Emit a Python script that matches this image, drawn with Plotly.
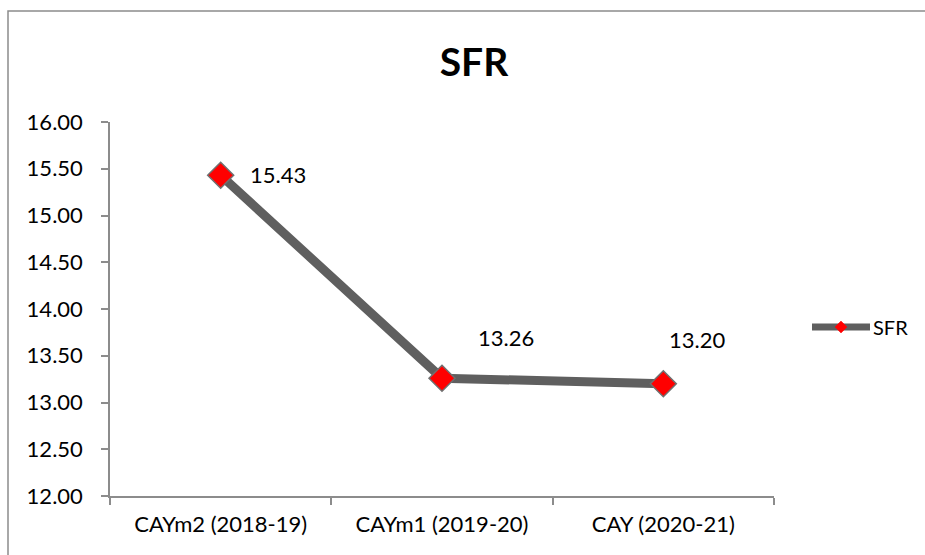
import plotly.graph_objects as go

# SFR by academic year
categories = ["CAYm2 (2018-19)", "CAYm1 (2019-20)", "CAY (2020-21)"]
sfr_values = [15.43, 13.26, 13.20]
y_ticks = [12.0, 12.5, 13.0, 13.5, 14.0, 14.5, 15.0, 15.5, 16.0]
series_name = "SFR"

# data label offsets (px) relative to each point
label_dx = [57, 64, 34]
label_dy = [1, 41, 44]

W, H = 925, 555
ML, MR, MT, MB = 110, 151, 122, 59
PW, PH = W - ML - MR, H - MT - MB

FONT = "Lato, Open Sans, sans-serif"
LINE_GREY = "#5f5f5f"
AXIS_GREY = "#8c8c8c"


def px_x(px):
    return (px - ML) / PW


def px_y(py):
    return (H - MB - py) / PH


fig = go.Figure()
fig.add_trace(go.Scatter(
    x=categories, y=sfr_values, name=series_name, mode="lines+markers",
    line=dict(color=LINE_GREY, width=9),
    marker=dict(symbol="diamond", size=20, color="#ff0000",
                line=dict(color="#707070", width=1.5)),
    showlegend=False,
))

for c, v, dx, dy in zip(categories, sfr_values, label_dx, label_dy):
    fig.add_annotation(x=c, y=v, text=f"{v:.2f}", showarrow=False,
                       xshift=dx, yshift=dy,
                       font=dict(family=FONT, size=22, color="#000000"))

# legend key: thick grey line with a small red diamond, then the name
lx0, lx1, ly = 812, 870, 327
fig.add_shape(type="line", xref="paper", yref="paper",
              x0=px_x(lx0), x1=px_x(lx1), y0=px_y(ly), y1=px_y(ly),
              line=dict(color=LINE_GREY, width=7))
cx, r = (lx0 + lx1) / 2, 6
fig.add_shape(type="path", xref="paper", yref="paper",
              path=(f"M {px_x(cx - r)} {px_y(ly)} L {px_x(cx)} {px_y(ly - r)} "
                    f"L {px_x(cx + r)} {px_y(ly)} L {px_x(cx)} {px_y(ly + r)} Z"),
              fillcolor="#ff0000", line=dict(color="#ff0000", width=0.5))
fig.add_annotation(xref="paper", yref="paper", x=px_x(lx1 + 1), y=px_y(ly),
                   xanchor="left", yanchor="middle", showarrow=False,
                   text=series_name,
                   font=dict(family=FONT, size=20, color="#000000"))

# outer chart border
fig.add_shape(type="rect", xref="paper", yref="paper",
              x0=px_x(8), x1=px_x(W + 5), y0=px_y(H + 5), y1=px_y(11),
              line=dict(color=AXIS_GREY, width=1.5), layer="below")

fig.update_layout(
    width=W, height=H,
    margin=dict(l=ML, r=MR, t=MT, b=MB),
    paper_bgcolor="white", plot_bgcolor="white",
    title=dict(text="<b>SFR</b>", x=474 / W, xanchor="center",
               y=1 - 62 / H, yanchor="middle",
               font=dict(family=FONT, size=39, color="#000000")),
    font=dict(family=FONT, size=22, color="#000000"),
    showlegend=False,
    xaxis=dict(type="category", range=[-0.5, 2.5], showgrid=False,
               showline=True, linecolor=AXIS_GREY, linewidth=1.5,
               ticks="outside", tickson="boundaries", ticklen=7,
               tickcolor=AXIS_GREY, tickwidth=1.5, ticklabelstandoff=8,
               tickfont=dict(family=FONT, size=22), zeroline=False),
    yaxis=dict(range=[12, 16], tickvals=y_ticks, tickformat=".2f",
               showgrid=False, showline=True, linecolor=AXIS_GREY,
               linewidth=1.5, ticks="outside", ticklen=7,
               tickcolor=AXIS_GREY, tickwidth=1.5, ticklabelstandoff=14,
               tickfont=dict(family=FONT, size=22), zeroline=False),
)

fig.write_html("out.html")
